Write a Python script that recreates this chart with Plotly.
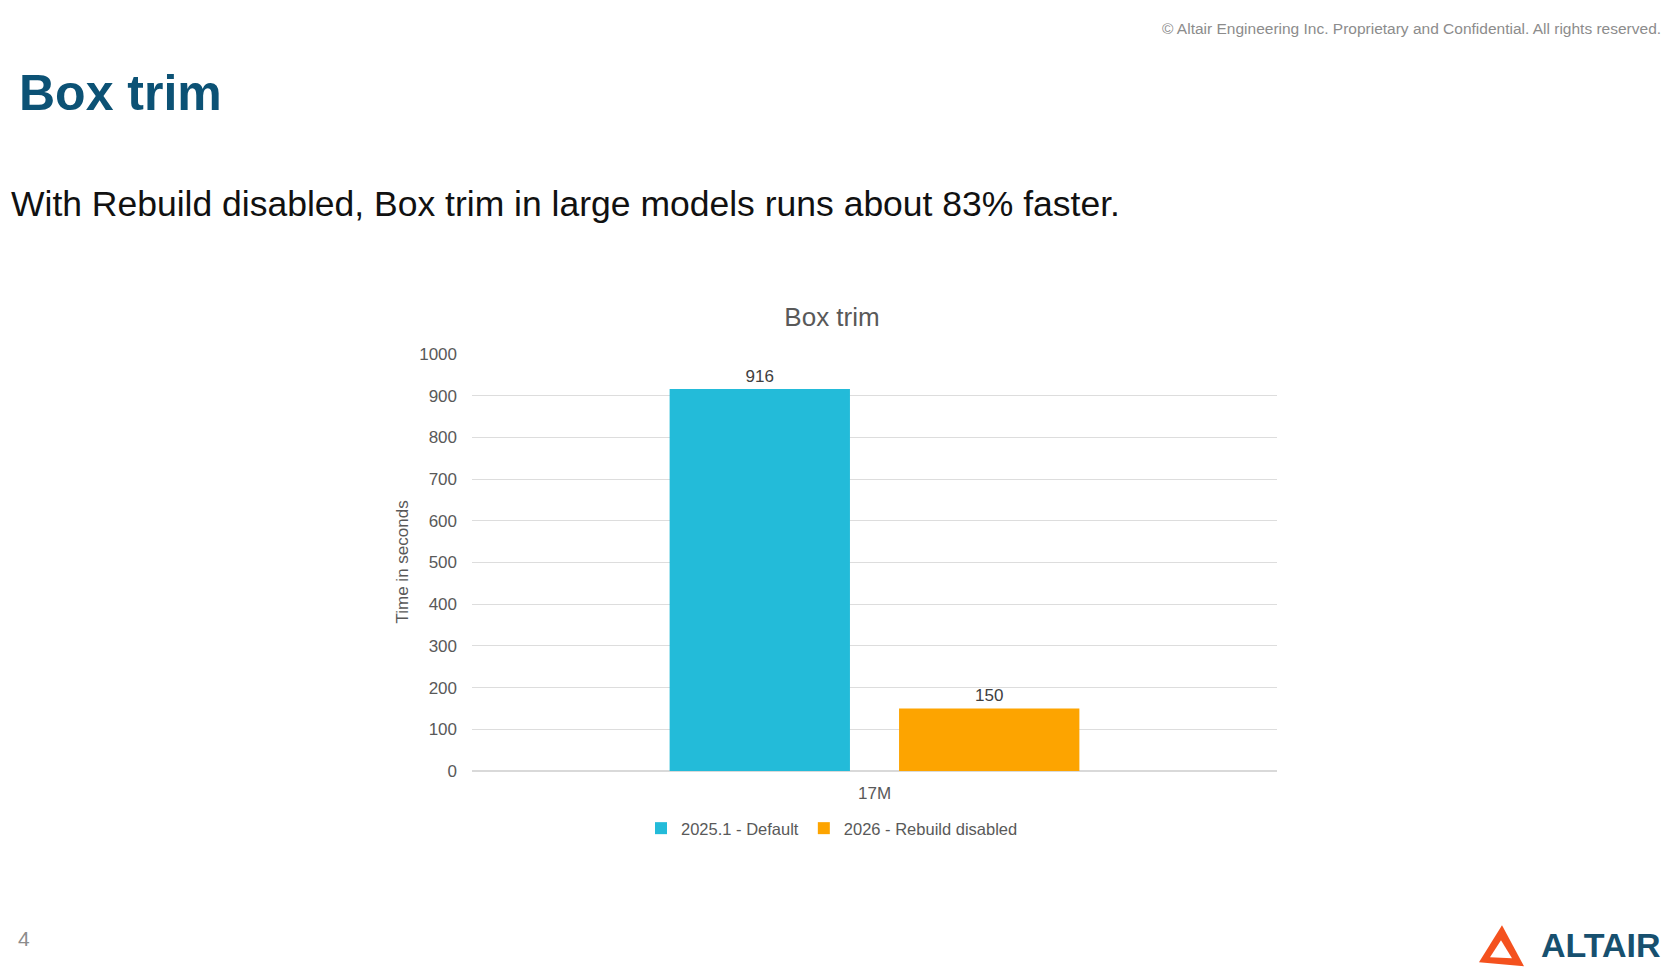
import plotly.graph_objects as go

# ---- data ----
categories = ["17M"]
series_names = ["2025.1 - Default", "2026 - Rebuild disabled"]
default_vals = [916]
rebuild_vals = [150]
y_ticks = [0, 100, 200, 300, 400, 500, 600, 700, 800, 900, 1000]

W, H = 1673, 979
L, R, T, B = 472, 1277, 354, 771.5  # plot area in px
FONT = "Liberation Sans, Arial, sans-serif"


def px(x):
    return (x - L) / (R - L)


def py(y):
    return (B - y) / (B - T)


fig = go.Figure()
fig.add_trace(go.Bar(
    x=categories, y=default_vals, name=series_names[0],
    marker=dict(color="#23BBD9", line=dict(width=0)),
    text=[str(v) for v in default_vals], textposition="outside",
    textfont=dict(size=17, color="#404040", family=FONT), cliponaxis=False,
))
fig.add_trace(go.Bar(
    x=categories, y=rebuild_vals, name=series_names[1],
    marker=dict(color="#FDA400", line=dict(width=0)),
    text=[str(v) for v in rebuild_vals], textposition="outside",
    textfont=dict(size=17, color="#404040", family=FONT), cliponaxis=False,
))

fig.update_layout(
    width=W, height=H, autosize=False,
    margin=dict(l=L, r=W - R, t=T, b=H - B, pad=0),
    paper_bgcolor="white", plot_bgcolor="white",
    font=dict(family=FONT, color="#595959"),
    barmode="group", bargap=0.43, bargroupgap=0.214,
    title=dict(text="Box trim", x=832 / W, xref="container", xanchor="center",
               y=1 - 317 / H, yref="container", yanchor="middle",
               font=dict(size=26, color="#595959", family=FONT)),
    showlegend=True,
    legend=dict(orientation="h", x=px(832), xanchor="center", y=py(829), yanchor="middle",
                font=dict(size=16.5, color="#595959", family=FONT),
                itemwidth=30, traceorder="normal", bgcolor="rgba(0,0,0,0)"),
    yaxis=dict(range=[0, 1000], tickvals=y_ticks, showgrid=True, gridcolor="#DDDDDD", gridwidth=1,
               zeroline=True, zerolinecolor="#D9D9D9", zerolinewidth=1.5, showline=False,
               tickfont=dict(size=17, color="#595959", family=FONT), ticklabelstandoff=14,
               fixedrange=True),
    xaxis=dict(showgrid=False, showline=False, zeroline=False,
               tickfont=dict(size=17, color="#595959", family=FONT), ticklabelstandoff=10),
)

annotations = [
    dict(text="Time in seconds", textangle=-90, x=px(402), y=0.5, xref="paper", yref="paper",
         xanchor="center", yanchor="middle", showarrow=False,
         font=dict(size=17, color="#595959", family=FONT)),
    dict(text="<b>Box trim</b>", x=px(17), y=py(93), xref="paper", yref="paper",
         showarrow=False, xanchor="left", yanchor="middle",
         font=dict(size=50, color="#0C5275", family=FONT)),
    dict(text="With Rebuild disabled, Box trim in large models runs about 83% faster.",
         x=px(9), y=py(204), xref="paper", yref="paper", showarrow=False,
         xanchor="left", yanchor="middle", font=dict(size=35.5, color="#111111", family=FONT)),
    dict(text="© Altair Engineering Inc. Proprietary and Confidential. All rights reserved.",
         x=px(1663), y=py(28), xref="paper", yref="paper", showarrow=False,
         xanchor="right", yanchor="middle", font=dict(size=15.5, color="#8C8C8C", family=FONT)),
    dict(text="4", x=px(24), y=py(939), xref="paper", yref="paper", showarrow=False,
         xanchor="center", yanchor="middle", font=dict(size=21, color="#8C8C8C", family=FONT)),
    dict(text="<b>ALTAIR</b>", x=px(1663), y=py(946), xref="paper", yref="paper", showarrow=False,
         xanchor="right", yanchor="middle", font=dict(size=34, color="#17506F", family=FONT)),
]
fig.update_layout(annotations=annotations)


def path(pts):
    return "M " + " L ".join(f"{px(x):.5f},{py(y):.5f}" for x, y in pts) + " Z"


shapes = [
    dict(type="path", xref="paper", yref="paper", line=dict(width=0), fillcolor="#F4511E",
         path=path([(1502, 926), (1479, 963), (1524, 967)])),
    dict(type="path", xref="paper", yref="paper", line=dict(width=0), fillcolor="white",
         path=path([(1501, 941), (1490, 958), (1512, 959)])),
]
fig.update_layout(shapes=shapes)

fig.write_html("out.html", config={"displayModeBar": False})
